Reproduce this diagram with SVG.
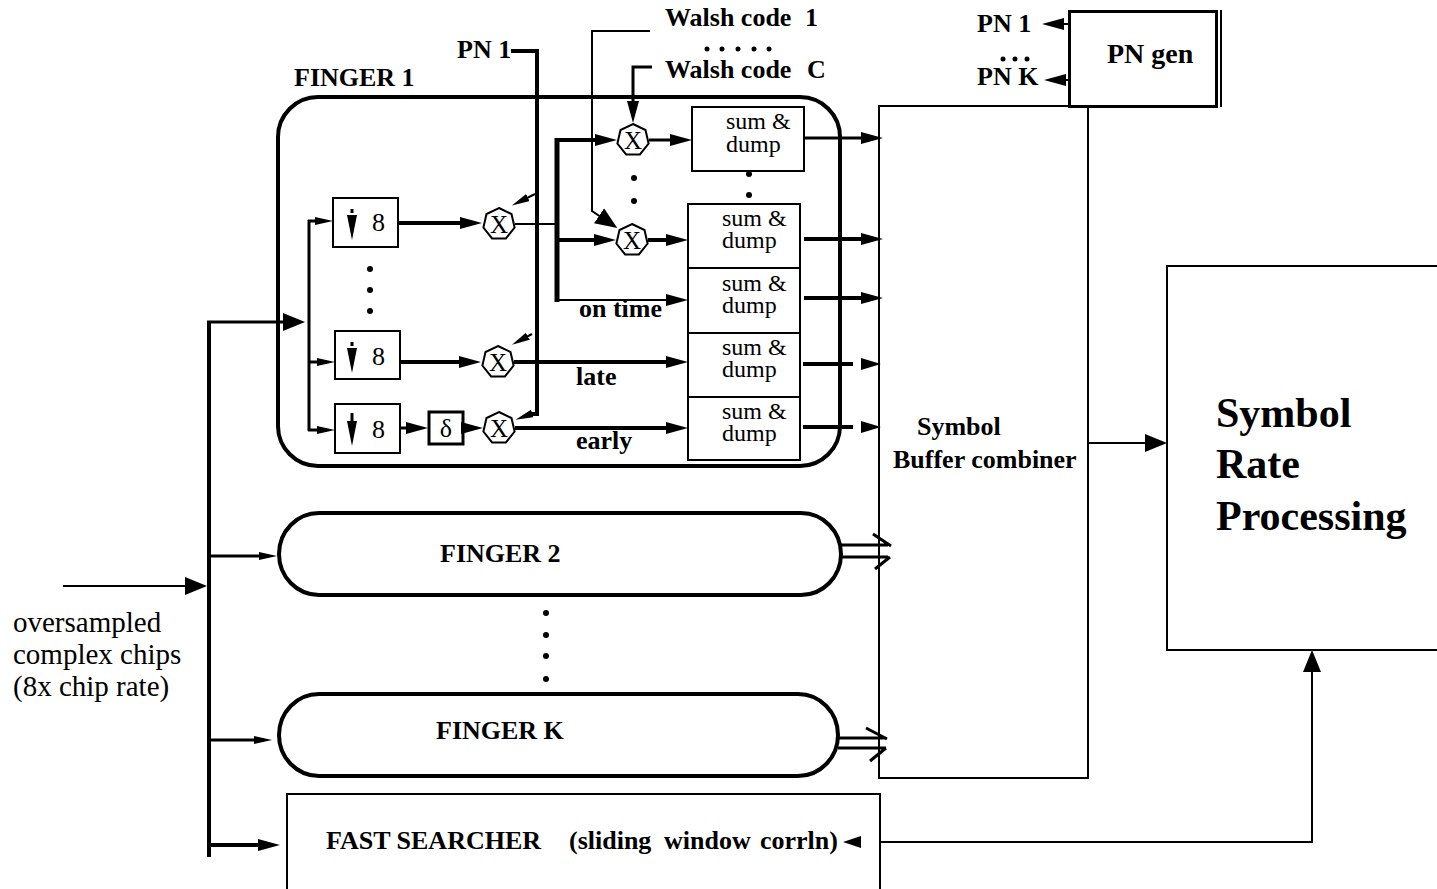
<svg xmlns="http://www.w3.org/2000/svg" width="1437" height="889" viewBox="0 0 1437 889">
<style>
.b{font-family:"Liberation Serif","Times New Roman",serif;font-weight:bold;font-size:26px;fill:#000}
.r{font-family:"Liberation Serif","Times New Roman",serif;font-size:26px;fill:#000}
.sd{font-family:"Liberation Serif","Times New Roman",serif;font-size:24px;fill:#000}
.box{fill:#fff;stroke:#000;stroke-width:2}
.fing{fill:none;stroke:#000;stroke-width:4}
.l1{fill:none;stroke:#000;stroke-width:2}
.l3{fill:none;stroke:#000;stroke-width:3}
.l4{fill:none;stroke:#000;stroke-width:4}
.mul{fill:#fff;stroke:#000;stroke-width:2}
.dot{fill:#000}
</style>
<defs>
<marker id="ar" markerUnits="userSpaceOnUse" markerWidth="22" markerHeight="12" refX="12" refY="6" orient="auto"><path d="M0,0L22,6L0,12z" fill="#000"/></marker>
<marker id="arS" markerUnits="userSpaceOnUse" markerWidth="18" markerHeight="8" refX="10" refY="4" orient="auto"><path d="M0,0L18,4L0,8z" fill="#000"/></marker>
<marker id="arB" markerUnits="userSpaceOnUse" markerWidth="22" markerHeight="18" refX="12" refY="9" orient="auto"><path d="M0,0L22,9L0,18z" fill="#000"/></marker>
<polygon id="hept" points="0,-16 12.5,-10 15.6,3.6 6.9,14.4 -6.9,14.4 -15.6,3.6 -12.5,-10"/>
</defs>
<rect width="1437" height="889" fill="#fff"/>

<g id="finger1">
<rect class="fing" x="278" y="97" width="562" height="369" rx="40" ry="40"/>
<text class="b" x="294" y="86">FINGER 1</text>
</g>

<g id="ds1">
<rect class="box" x="333" y="198" width="65" height="49"/>
<rect x="350.5" y="209" width="3" height="4" fill="#000"/>
<polygon points="347,215 357,215 352,240" fill="#000"/>
<text class="r" x="372" y="231">8</text>
</g>
<g id="ds2">
<rect class="box" x="335" y="331" width="65" height="48"/>
<rect x="350.5" y="342" width="3" height="4" fill="#000"/>
<polygon points="347,348 357,348 352,373" fill="#000"/>
<text class="r" x="372" y="365">8</text>
</g>
<g id="ds3">
<rect class="box" x="335" y="404" width="65" height="49"/>
<line x1="352" y1="413" x2="352" y2="424" stroke="#000" stroke-width="3"/>
<polygon points="347,421 357,421 352,446" fill="#000"/>
<text class="r" x="372" y="438">8</text>
</g>
<g id="dsdots">
<circle class="dot" cx="370" cy="269" r="3"/><circle class="dot" cx="370" cy="290" r="3"/><circle class="dot" cx="370" cy="311" r="3"/>
</g>

<g id="delay">
<rect x="429" y="412" width="34" height="32" fill="#fff" stroke="#000" stroke-width="3"/>
<text class="r" x="446" y="437" text-anchor="middle">δ</text>
</g>

<g id="mulX1"><use href="#hept" x="499" y="224" class="mul"/><text class="r" x="499" y="233" text-anchor="middle" style="font-size:25px">X</text></g>
<g id="mulX2"><use href="#hept" x="498" y="362" class="mul"/><text class="r" x="498" y="371" text-anchor="middle" style="font-size:25px">X</text></g>
<g id="mulX3"><use href="#hept" x="499" y="428" class="mul"/><text class="r" x="499" y="437" text-anchor="middle" style="font-size:25px">X</text></g>
<g id="mulW1"><use href="#hept" x="633" y="140" class="mul"/><text class="r" x="633" y="149" text-anchor="middle" style="font-size:25px">X</text></g>
<g id="mulWC"><use href="#hept" x="632" y="240" class="mul"/><text class="r" x="632" y="249" text-anchor="middle" style="font-size:25px">X</text></g>
<g id="muldots"><circle class="dot" cx="634" cy="178" r="3"/><circle class="dot" cx="634" cy="201" r="3"/></g>

<g id="sd1"><rect class="box" x="692" y="107" width="112" height="64"/><text class="sd" x="726" y="129">sum &amp;</text><text class="sd" x="726" y="152">dump</text></g>
<g id="sddots"><circle class="dot" cx="749" cy="174" r="3"/><circle class="dot" cx="749" cy="195" r="3"/></g>
<g id="sd2"><rect class="box" x="688" y="204" width="112" height="64"/><text class="sd" x="722" y="226">sum &amp;</text><text class="sd" x="722" y="248">dump</text></g>
<g id="sd3"><rect class="box" x="688" y="268" width="112" height="65"/><text class="sd" x="722" y="291">sum &amp;</text><text class="sd" x="722" y="313">dump</text></g>
<g id="sd4"><rect class="box" x="688" y="333" width="112" height="64"/><text class="sd" x="722" y="355">sum &amp;</text><text class="sd" x="722" y="377">dump</text></g>
<g id="sd5"><rect class="box" x="688" y="397" width="112" height="63"/><text class="sd" x="722" y="419">sum &amp;</text><text class="sd" x="722" y="441">dump</text></g>

<g id="labels">
<text class="b" x="457" y="58">PN 1</text>
<text class="b" x="665" y="26">Walsh code<tspan x="805">1</tspan></text>
<circle class="dot" cx="707" cy="49" r="2.5"/><circle class="dot" cx="722" cy="49" r="2.5"/><circle class="dot" cx="738" cy="49" r="2.5"/><circle class="dot" cx="754" cy="49" r="2.5"/><circle class="dot" cx="769" cy="49" r="2.5"/>
<text class="b" x="665" y="78">Walsh code<tspan x="807">C</tspan></text>
<text class="b" x="579" y="317">on time</text>
<text class="b" x="576" y="385">late</text>
<text class="b" x="576" y="449">early</text>
<text class="r" x="13" y="632" style="font-size:29px">oversampled</text>
<text class="r" x="13" y="664" style="font-size:29px">complex chips</text>
<text class="r" x="13" y="696" style="font-size:29px">(8x chip rate)</text>
</g>

<g id="finger2">
<rect class="fing" x="279" y="513" width="562" height="82" rx="40" ry="41"/>
<text class="b" x="440" y="562">FINGER 2</text>
</g>
<g id="fdots"><circle class="dot" cx="546" cy="613" r="3"/><circle class="dot" cx="546" cy="635" r="3"/><circle class="dot" cx="546" cy="656" r="3"/><circle class="dot" cx="546" cy="679" r="3"/></g>
<g id="fingerK">
<rect class="fing" x="279" y="694" width="559" height="82" rx="40" ry="41"/>
<text class="b" x="436" y="739">FINGER K</text>
</g>

<g id="searcher">
<path class="l1" d="M287,900V794H880V900"/>
<text class="b" x="326" y="849">FAST SEARCHER</text>
<text class="b" x="569" y="849">(sliding</text>
<text class="b" x="664" y="849">window</text>
<text class="b" x="760" y="849">corrln)</text>
</g>

<g id="buffer">
<rect class="box" x="879" y="106" width="209" height="672" fill="none"/>
<text class="b" x="917" y="435">Symbol</text>
<text class="b" x="893" y="468">Buffer combiner</text>
</g>

<g id="pngen">
<rect x="1069.5" y="11.5" width="147" height="95" fill="#fff" stroke="#000" stroke-width="3"/>
<line x1="1221" y1="10" x2="1221" y2="107" stroke="#000" stroke-width="2"/>
<text class="b" x="1107" y="63" style="font-size:28px">PN gen</text>
<text class="b" x="977" y="32">PN 1</text>
<circle class="dot" cx="1003" cy="59" r="2.5"/><circle class="dot" cx="1015" cy="59" r="2.5"/><circle class="dot" cx="1027" cy="59" r="2.5"/>
<text class="b" x="977" y="85">PN K</text>
</g>

<g id="srp">
<rect class="box" x="1167" y="266" width="290" height="384" fill="none"/>
<text class="b" x="1216" y="427" style="font-size:42px">Symbol</text>
<text class="b" x="1216" y="478" style="font-size:42px">Rate</text>
<text class="b" x="1216" y="530" style="font-size:42px">Processing</text>
</g>

<g id="connectors">
<line x1="63" y1="586" x2="197" y2="586" class="l1" marker-end="url(#arB)"/>
<line x1="209" y1="321" x2="209" y2="857" class="l4"/>
<line x1="207" y1="322" x2="295" y2="322" class="l3" marker-end="url(#arB)"/>
<line x1="209" y1="556" x2="269" y2="556" class="l3" marker-end="url(#arS)"/>
<line x1="209" y1="740" x2="264" y2="740" class="l3" marker-end="url(#arS)"/>
<line x1="209" y1="845" x2="270" y2="845" class="l4" marker-end="url(#ar)"/>
<line x1="309" y1="220" x2="309" y2="431" class="l3"/>
<line x1="308" y1="221" x2="325" y2="221" class="l3" marker-end="url(#arS)"/>
<line x1="308" y1="362" x2="327" y2="362" class="l3" marker-end="url(#arS)"/>
<line x1="308" y1="430" x2="327" y2="430" class="l3" marker-end="url(#arS)"/>
<line x1="398" y1="223" x2="472" y2="223" class="l4" marker-end="url(#ar)"/>
<line x1="400" y1="362" x2="471" y2="362" class="l4" marker-end="url(#ar)"/>
<line x1="400" y1="428" x2="418" y2="428" class="l3" marker-end="url(#ar)"/>
<line x1="463" y1="428" x2="473" y2="428" class="l3" marker-end="url(#ar)"/>
<path d="M511,51H537V414H531" class="l4"/>
<line x1="531" y1="414" x2="523" y2="417" class="l1" marker-end="url(#arS)"/>
<line x1="535" y1="194" x2="519" y2="202" class="l1" marker-end="url(#arS)"/>
<line x1="532" y1="334" x2="519" y2="341" class="l1" marker-end="url(#arS)"/>
<line x1="515" y1="224" x2="557" y2="224" class="l1"/>
<line x1="557" y1="138" x2="557" y2="302" class="l4" style="stroke-width:5"/>
<line x1="555" y1="140" x2="607" y2="140" class="l4" marker-end="url(#ar)"/>
<line x1="555" y1="240" x2="606" y2="240" class="l4" marker-end="url(#ar)"/>
<line x1="557" y1="300" x2="678" y2="300" class="l1" marker-end="url(#ar)"/>
<path d="M650,31H592V211L609,222.5" class="l1" marker-end="url(#arB)"/>
<path d="M652,67H633V113" class="l3" marker-end="url(#ar)"/>
<line x1="649" y1="140" x2="682" y2="140" class="l3" marker-end="url(#ar)"/>
<line x1="648" y1="240" x2="678" y2="240" class="l4" marker-end="url(#ar)"/>
<line x1="514" y1="362" x2="678" y2="362" class="l4" marker-end="url(#ar)"/>
<line x1="515" y1="428" x2="678" y2="428" class="l4" marker-end="url(#ar)"/>
<line x1="804" y1="138" x2="873" y2="138" class="l3" marker-end="url(#ar)"/>
<line x1="804" y1="239" x2="873" y2="239" class="l4" marker-end="url(#ar)"/>
<line x1="804" y1="298" x2="873" y2="298" class="l4" marker-end="url(#ar)"/>
<line x1="803" y1="364" x2="853" y2="364" class="l4"/>
<polygon points="861,358 881,364 861,370"/>
<line x1="803" y1="427" x2="853" y2="427" class="l4"/>
<polygon points="861,421 881,427 861,433"/>
<path d="M841,545H888M841,557H888M873,534L891,546M890,557L875,569" class="l3"/>
<path d="M838,738H886M838,748H886M866,728L887,739M886,748L870,761" class="l3"/>
<line x1="1068" y1="24" x2="1052" y2="24" class="l1" marker-end="url(#ar)"/>
<line x1="1068" y1="80" x2="1054" y2="80" class="l1" marker-end="url(#ar)"/>
<line x1="1088" y1="443" x2="1157" y2="443" class="l1" marker-end="url(#arB)"/>
<path d="M880,842H1312V660" class="l1" marker-end="url(#arB)"/>
<polygon points="843,842 861,836 861,848"/>
</g>
</svg>
